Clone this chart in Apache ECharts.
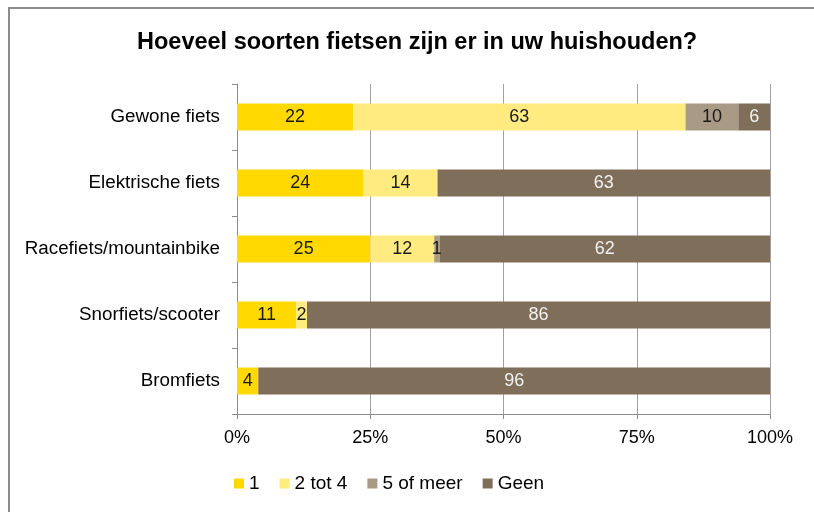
<!DOCTYPE html>
<html>
<head>
<meta charset="utf-8">
<script src="https://cdn.jsdelivr.net/npm/echarts@6/dist/echarts.min.js"></script>
<style>
  html, body { margin: 0; padding: 0; background: #fff; overflow: hidden; }
  #frame { position: absolute; left: 8px; top: 7px; width: 820px; height: 520px; border-left: 2px solid #8c8c8c; border-top: 2px solid #8c8c8c; }
  #chart { position: absolute; left: 0; top: 0; width: 814px; height: 512px; }
</style>
</head>
<body>
<div id="frame"></div>
<div id="chart"></div>
<script>
// categories from bottom to top (category axis starts at bottom)
var categories = ['Bromfiets', 'Snorfiets/scooter', 'Racefiets/mountainbike', 'Elektrische fiets', 'Gewone fiets'];
var seriesNames = ['1', '2 tot 4', '5 of meer', 'Geen'];
var een = [4, 11, 25, 24, 22];
var tweeTotVier = [0, 2, 12, 14, 63];
var vijfOfMeer = [0, 0, 1, 0, 10];
var geen = [96, 86, 62, 63, 6];
var tickLabels = ['0%', '25%', '50%', '75%', '100%'];

var colors = ['#ffd900', '#ffeb80', '#a99a86', '#7f6f5a'];
var labelColors = ['#1a1a1a', '#1a1a1a', '#1a1a1a', '#f2f2f2'];
var raw = [een, tweeTotVier, vijfOfMeer, geen];

// 100% gestapeld: elke rij normaliseren
var totals = categories.map(function (c, i) {
	return raw.reduce(function (s, arr) { return s + arr[i]; }, 0);
});

var chart = echarts.init(document.getElementById('chart'));
var option = {
	animation: false,
	title: {
		text: 'Hoeveel soorten fietsen zijn er in uw huishouden?',
		left: 132,
		top: 26,
		textStyle: { fontFamily: 'Liberation Sans', fontSize: 23.5, fontWeight: 'bold', color: '#000' }
	},
	legend: {
		bottom: 14,
		left: 229,
		itemWidth: 10,
		itemHeight: 10,
		itemGap: 20,
		icon: 'rect',
		textStyle: { fontFamily: 'Liberation Sans', fontSize: 19, color: '#000' },
		data: seriesNames
	},
	grid: { left: 237, right: 44, top: 84, bottom: 98, containLabel: false },
	xAxis: {
		type: 'value',
		min: 0,
		max: 100,
		interval: 25,
		axisLine: { show: true, lineStyle: { color: '#8c8c8c' } },
		axisTick: { show: true, length: 5, lineStyle: { color: '#8c8c8c' } },
		splitLine: { lineStyle: { color: '#a0a0a0', width: 1 } },
		axisLabel: {
			fontFamily: 'Liberation Sans', fontSize: 18, color: '#000', margin: 15,
			formatter: function (v) { return tickLabels[v / 25]; }
		}
	},
	yAxis: {
		type: 'category',
		data: categories,
		axisLine: { lineStyle: { color: '#8c8c8c' } },
		axisTick: { show: true, length: 5, lineStyle: { color: '#8c8c8c' } },
		axisLabel: { fontFamily: 'Liberation Sans', fontSize: 18.8, color: '#000', margin: 17 }
	},
	series: raw.map(function (arr, k) {
		return {
			name: seriesNames[k],
			type: 'bar',
			stack: 'total',
			barWidth: 27,
			itemStyle: { color: colors[k] },
			label: {
				show: true,
				color: labelColors[k],
				fontFamily: 'Liberation Sans',
				fontSize: 18,
				formatter: function (p) { return arr[p.dataIndex] > 0 ? arr[p.dataIndex] : ''; }
			},
			data: arr.map(function (v, i) { return v / totals[i] * 100; })
		};
	})
};
chart.setOption(option);
</script>
</body>
</html>
